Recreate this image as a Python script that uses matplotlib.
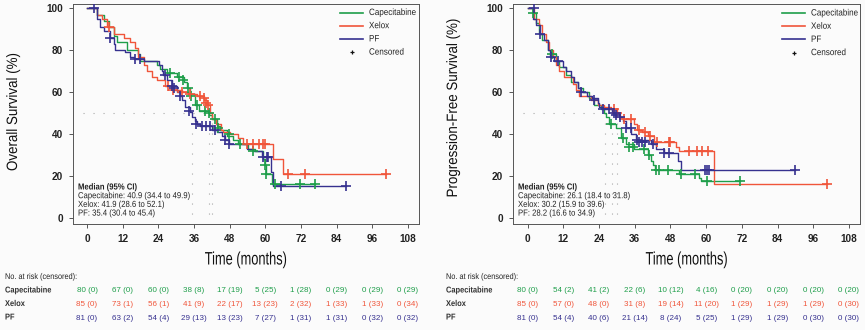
import matplotlib
matplotlib.use("Agg")
import matplotlib.pyplot as plt
from matplotlib.lines import Line2D
from matplotlib.patheffects import AbstractPathEffect
from matplotlib.transforms import Affine2D
import matplotlib.transforms as mtransforms

W, H = 865, 330
SANS = ['Liberation Sans', 'DejaVu Sans']
plt.rcParams['font.family'] = SANS

GREEN = '#1e9e4a'
RED = '#f0553a'
BLUE = '#36318f'
groups = ['Capecitabine', 'Xelox', 'PF']
colors = [GREEN, RED, BLUE]

# ---------------- Overall survival ----------------
os_cap_t = [0, 3.4, 5.6, 7.3, 9, 10, 13.4, 17.3, 17.9, 23.5, 24.6, 26.9, 30.2, 32.5, 33.6, 34.7, 36.4, 37.5,
            40.9, 42, 43.6, 44.8, 47, 49.2, 50.9, 54.3, 56.5, 59.3, 59.9, 60.2, 62.1, 76.7]
os_cap_s = [100, 97, 94, 91, 87, 84, 80, 78, 75, 73, 71, 69, 67, 65, 62, 59, 54, 51,
            49, 47, 44, 42, 39, 37, 35, 33, 32, 28, 25, 21, 16, 16]
os_cap_ct = [28, 30.8, 32.2, 34, 35, 36.9, 39.7, 40.9, 43, 44.2, 47.6, 51.5, 56, 59.9, 60.1, 63.2, 71.6, 76.7]
os_cap_cs = [69, 67, 66, 62, 58, 54, 51, 50, 47, 43, 40, 35, 32, 25, 21, 16, 16, 16]

os_xel_t = [0, 3.4, 5.0, 6.7, 9.0, 12.3, 14.5, 16.2, 17.3, 19.0, 20.1, 21.8, 23.5, 26.3, 28.5, 31.9, 34.1, 36.9,
            39.4, 40.3, 41.4, 42.0, 43.4, 45.0, 45.9, 48.1, 50.9, 52.4, 62.5, 66.0, 100.7]
os_xel_s = [100, 97, 95, 91, 88, 86, 84, 81, 77, 73, 70, 67, 66, 63, 61, 60, 59, 58,
            56, 54, 50, 47, 45, 42, 41, 40, 38, 35, 28, 21, 21]
os_xel_ct = [7.3, 27.3, 28.9, 31.9, 34.6, 38.0, 39.4, 39.9, 40.7, 53.7, 56, 57.7, 59.3, 59.9, 67.7, 73.3, 100.7]
os_xel_cs = [91, 63, 61, 60, 59, 58, 57, 55, 54, 35, 35, 35, 35, 35, 21, 21, 21]

os_pf_t = [0, 3.4, 4.5, 5.6, 7.8, 9.0, 9.5, 12.9, 14.5, 15.7, 19.0, 24.1, 25.2, 25.7, 26.9, 28.5, 30.2, 31.3,
           31.9, 33.0, 34.5, 35.4, 36.4, 37.0, 38.0, 42.0, 43.6, 45.3, 46.4, 47.6, 53.7, 55.9, 58.8, 61.9, 62.7, 87.3]
os_pf_s = [100, 95, 91, 89, 86, 83, 80, 79, 77, 76, 75, 73, 70, 68, 66, 63, 60, 58,
           56, 53, 50.5, 48, 46, 45, 44, 42, 41, 39, 37, 35, 33, 32, 29, 22, 15, 15]
os_pf_ct = [2.2, 7.8, 16.2, 17.9, 26.3, 28.7, 29.1, 31.3, 34.2, 36.5, 38.6, 40, 41.4, 43, 46.4, 47.6,
            59.3, 60.4, 61, 65.1, 87.3]
os_pf_cs = [100, 86, 76, 76, 68, 63, 62, 58, 51, 45, 44, 44, 44, 42, 37, 35, 29, 29, 29, 15, 15]

# ---------------- Progression-free survival ----------------
pfs_cap_t = [0, 1.7, 2.8, 3.9, 5.0, 6.7, 7.8, 9.5, 10.6, 12.9, 14.5, 16.8, 18.5, 20.7, 22.4, 24.6, 25.7, 26.3,
             27.4, 29.7, 31.3, 33.0, 35.8, 40.3, 41.4, 42.0, 42.8, 50.9, 57.6, 58.2, 71.4]
pfs_cap_s = [100, 98, 93, 88, 85, 80, 78, 75, 72, 68, 65, 62, 60, 57, 54, 52, 50, 48,
             45, 43, 38, 35, 33, 30, 27, 25, 23, 21, 19, 17.5, 17.5]
pfs_cap_ct = [1.9, 8.1, 28, 32.1, 34.1, 35.4, 39.2, 40.8, 43.1, 44.3, 47.3, 51.5, 56.2, 60.2, 71.4]
pfs_cap_cs = [98, 78, 45, 38, 34, 34, 33, 30, 23, 23, 23, 21, 21, 17.5, 17.5]

pfs_xel_t = [0, 2.2, 3.9, 5.0, 6.2, 7.3, 8.4, 9.5, 10.6, 12.3, 15.1, 16.2, 17.3, 21.3, 23.5, 25.7, 28.0, 30.0,
             31.1, 31.9, 35.8, 36.9, 38.6, 40.3, 42.5, 49.8, 50.9, 62.5, 100.7]
pfs_xel_s = [100, 95, 92, 88, 84, 80, 77, 73, 70, 67, 64, 61, 58, 56, 54, 53, 52, 50,
             48, 47, 45, 42, 41, 39, 36, 34, 32, 16, 16]
pfs_xel_ct = [29.1, 30.2, 32.5, 34.7, 37.6, 39.3, 41.1, 43.4, 47.6, 48, 54.2, 57, 58.7, 60.7, 100.7]
pfs_xel_cs = [52, 50, 47, 47, 42, 41, 39, 36, 36, 36, 32, 32, 32, 32, 16]

pfs_pf_t = [0, 1.9, 2.8, 4.3, 5.6, 6.7, 7.6, 9.0, 11.8, 12.9, 14.5, 15.7, 16.8, 17.9, 20.1, 21.8, 23.5, 24.1,
            25.2, 28.5, 30.8, 31.9, 33.0, 34.7, 36.4, 41.4, 43.1, 45.9, 50.4, 51.5, 89.8]
pfs_pf_s = [100, 95, 92, 88, 85, 80, 77, 75, 72, 70, 67, 65, 62, 60, 58, 57, 55, 53,
            52, 50, 48, 46, 43, 40, 37, 35, 33, 31, 27, 23, 23]
pfs_pf_ct = [2, 4.3, 7.8, 10.1, 17.9, 22.2, 25.3, 27.2, 29.1, 29.6, 30.9, 33.2, 34.9, 36.9, 37.5, 38.4,
             39.5, 42.2, 45.9, 47.6, 59.6, 60.4, 61, 89.8]
pfs_pf_cs = [100, 88, 77, 75, 60, 56, 52, 52, 50, 49, 48, 43, 43, 37, 36, 36, 36, 35, 31, 31, 23, 23, 23, 23]

# medians
os_medians = [40.9, 41.9, 35.4]
pfs_medians = [26.1, 30.2, 28.2]
os_median_text = ['Capecitabine: 40.9 (34.4 to 49.9)', 'Xelox: 41.9 (28.6 to 52.1)', 'PF: 35.4 (30.4 to 45.4)']
pfs_median_text = ['Capecitabine: 26.1 (18.4 to 31.8)', 'Xelox: 30.2 (15.9 to 39.6)', 'PF: 28.2 (16.6 to 34.9)']

# at risk tables
xticks = [0, 12, 24, 36, 48, 60, 72, 84, 96, 108]
os_risk = [
    ['80 (0)', '67 (0)', '60 (0)', '38 (8)', '17 (19)', '5 (25)', '1 (28)', '0 (29)', '0 (29)', '0 (29)'],
    ['85 (0)', '73 (1)', '56 (1)', '41 (9)', '22 (17)', '13 (23)', '2 (32)', '1 (33)', '1 (33)', '0 (34)'],
    ['81 (0)', '63 (2)', '54 (4)', '29 (13)', '13 (23)', '7 (27)', '1 (31)', '1 (31)', '0 (32)', '0 (32)'],
]
pfs_risk = [
    ['80 (0)', '54 (2)', '41 (2)', '22 (6)', '10 (12)', '4 (16)', '0 (20)', '0 (20)', '0 (20)', '0 (20)'],
    ['85 (0)', '57 (0)', '48 (0)', '31 (8)', '19 (14)', '11 (20)', '1 (29)', '1 (29)', '1 (29)', '0 (30)'],
    ['81 (0)', '54 (4)', '40 (6)', '21 (14)', '8 (24)', '5 (25)', '1 (29)', '1 (29)', '0 (30)', '0 (30)'],
]

BG = '#fbfbfb'
DPI = 100
fig = plt.figure(figsize=(W / DPI, H / DPI), dpi=DPI, facecolor=BG)


class Squeeze(AbstractPathEffect):
    """Condense rendered glyphs around an anchor point (display pixels)."""

    def __init__(self, cx, cy, sx=1.0, sy=1.0):
        super().__init__()
        self.cx, self.cy, self.sx, self.sy = cx, cy, sx, sy

    def draw_path(self, renderer, gc, tpath, affine, rgbFace=None):
        t = affine + Affine2D().translate(-self.cx, -self.cy).scale(self.sx, self.sy).translate(self.cx, self.cy)
        renderer.draw_path(gc, tpath, t, rgbFace)


def fx(px):
    return px / W


def fy(py):
    return 1 - py / H


def put(px, py, s, size, squeeze=0.88, rotation=0, **kw):
    if rotation == 90:
        pe = Squeeze(px, H - py, 1.0, squeeze)
    else:
        pe = Squeeze(px, H - py, squeeze, 1.0)
    return fig.text(fx(px), fy(py), s, fontsize=size, rotation=rotation, path_effects=[pe], **kw)


def make_panel(ax_px, curves, censors, medians, median_text, ylabel, risk, leg_px, med_px, ylab_xy, tab_x):
    x0, x1, y0, y1 = ax_px
    ax = fig.add_axes([fx(x0), fy(y1), fx(x1 - x0), (y1 - y0) / H])
    ax.set_facecolor(BG)
    ax.set_xlim(-4.9, 111.7)
    ax.set_ylim(-3.0, 102.1)
    for sp in ax.spines.values():
        sp.set_color('#555555')
        sp.set_linewidth(0.7)
    ax.set_xticks(xticks)
    ax.set_yticks([0, 20, 40, 60, 80, 100])
    ax.tick_params(axis='both', direction='out', length=3, width=0.7, color='#555555',
                   labelsize=7.2, labelcolor='#222222', pad=4)
    for lab in ax.get_xticklabels() + ax.get_yticklabels():
        lab.set_fontweight('bold')

    # median dotted guide lines
    mmax = max(medians)
    ax.plot([-1.5, mmax], [50, 50], color='#a8a8a8', lw=0.8, ls=(0, (1, 8)), zorder=1)
    for m in medians:
        ax.plot([m, m], [50, -2.5], color='#a8a8a8', lw=0.8, ls=(0, (1, 8)), zorder=1)

    for (t, s), (ct, cs), c in zip(curves, censors, colors):
        ax.step(t, s, where='post', color=c, lw=1.0, zorder=3)
        ax.plot(ct, cs, ls='none', marker='+', ms=6.5, mew=1.2, color=c, zorder=4)

    # median text
    mx, my = med_px
    put(mx, my, 'Median (95% CI)', 6.3, fontweight='bold', color='#222222', va='center', ha='left')
    for i, tx in enumerate(median_text):
        put(mx, my + 8.7 * (i + 1), tx, 6.3, color='#222222', va='center', ha='left')

    # legend
    lx0, lx1, ltx, ly = leg_px
    for i, (g, c) in enumerate(zip(groups, colors)):
        yy = ly + 13.2 * i
        fig.add_artist(Line2D([fx(lx0), fx(lx1)], [fy(yy), fy(yy)], color=c, lw=1.2))
        put(ltx, yy, g, 6.6, color='#222222', va='center', ha='left')
    yy = ly + 13.2 * 3
    fig.add_artist(Line2D([fx((lx0 + lx1) / 2)], [fy(yy)], marker='+', ms=3.5, mew=0.9, color='#111111'))
    put(ltx, yy, 'Censored', 6.6, color='#222222', va='center', ha='left')

    # axis titles
    put(ylab_xy[0], ylab_xy[1], ylabel, 10.8, squeeze=0.89, rotation=90, color='#111111',
        va='center', ha='center')
    put((x0 + x1) / 2, 260, 'Time (months)', 13, squeeze=0.71, color='#111111', va='center', ha='center')

    # at risk table
    tr = mtransforms.blended_transform_factory(ax.transData, fig.transFigure)
    put(tab_x, 277.5, 'No. at risk (censored):', 6.0, color='#222222', va='center', ha='left')
    rows_y = [291, 304.5, 318]
    for gi, (g, c) in enumerate(zip(groups, colors)):
        put(tab_x, rows_y[gi], g, 6.1, fontweight='bold', color='#333333', va='center', ha='left')
        for xt, val in zip(xticks, risk[gi]):
            ax.text(xt, fy(rows_y[gi]), val, transform=tr, fontsize=5.8, color=c,
                    va='center', ha='center', clip_on=False)
    return ax


make_panel((72.5, 419, 4, 224),
           [(os_cap_t, os_cap_s), (os_xel_t, os_xel_s), (os_pf_t, os_pf_s)],
           [(os_cap_ct, os_cap_cs), (os_xel_ct, os_xel_cs), (os_pf_ct, os_pf_cs)],
           os_medians, os_median_text, 'Overall Survival (%)', os_risk,
           (340, 363, 369, 12.5), (78, 187), (13, 112), 5)

make_panel((513, 860, 4, 224),
           [(pfs_cap_t, pfs_cap_s), (pfs_xel_t, pfs_xel_s), (pfs_pf_t, pfs_pf_s)],
           [(pfs_cap_ct, pfs_cap_cs), (pfs_xel_ct, pfs_xel_cs), (pfs_pf_ct, pfs_pf_cs)],
           pfs_medians, pfs_median_text, 'Progression-Free Survival (%)', pfs_risk,
           (782, 805, 811, 13), (518, 187), (453, 108), 446)

fig.savefig('out.png', dpi=DPI, facecolor=BG)
